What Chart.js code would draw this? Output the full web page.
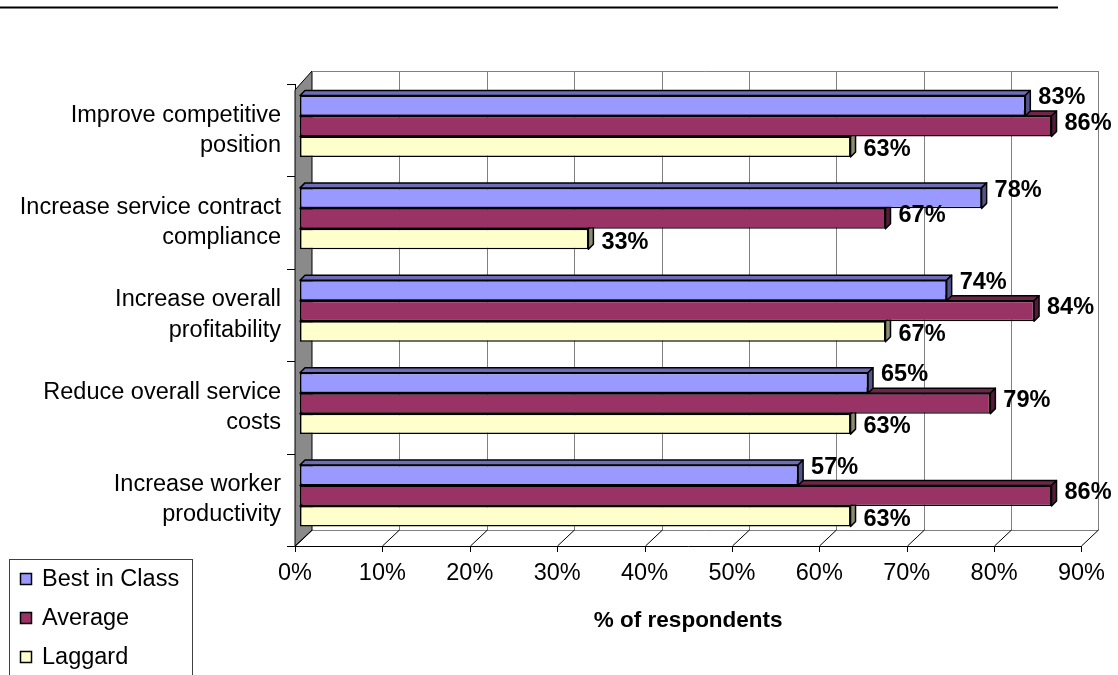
<!DOCTYPE html>
<html>
<head>
<meta charset="utf-8">
<script src="https://cdn.jsdelivr.net/npm/chart.js@4.4.1/dist/chart.umd.min.js"></script>
<style>
  html, body { margin: 0; padding: 0; background: #fff; }
  #wrap { position: relative; width: 1118px; height: 675px; }
</style>
</head>
<body>
<div id="wrap"><canvas id="chart" width="1118" height="675"></canvas></div>
<script>
const categories = [
    ["Improve competitive", "position"],
    ["Increase service contract", "compliance"],
    ["Increase overall", "profitability"],
    ["Reduce overall service", "costs"],
    ["Increase worker", "productivity"],
];
const bestInClass = [83, 78, 74, 65, 57];
const average = [86, 67, 84, 79, 86];
const laggard = [63, 33, 67, 63, 63];
const seriesNames = ["Best in Class", "Average", "Laggard"];
const seriesColors = ["#9999FF", "#993366", "#FFFFCC"];
const xTicks = [0, 10, 20, 30, 40, 50, 60, 70, 80, 90];

const FONT = "Arial, 'Liberation Sans', sans-serif";

// depth of the back wall and of the bars (pseudo 3D)
const DX = 17, DY = -16;
const BX = 5, BY = -4;   // bar plane offset from the front plane
const BD = 5;            // bar depth
const labelDy = [-8, -3, 3];

function shade(hex, f) {
    const n = parseInt(hex.slice(1), 16);
    const r = Math.round(((n >> 16) & 255) * f);
    const g = Math.round(((n >> 8) & 255) * f);
    const b = Math.round((n & 255) * f);
    return `rgb(${r},${g},${b})`;
}

const walls = {
    id: "walls",
    beforeDatasetsDraw(chart) {
        const { ctx, chartArea: a } = chart;
        const xs = chart.scales.x;
        const L = a.left, R = a.right, T = a.top, B = a.bottom;
        ctx.save();

        // left wall
        ctx.beginPath();
        ctx.moveTo(L, B);
        ctx.lineTo(L, T + 6);
        ctx.lineTo(L + DX, T + DY + 3);
        ctx.lineTo(L + DX, B + DY);
        ctx.closePath();
        ctx.fillStyle = "#8a8a8a";
        ctx.fill();
        ctx.strokeStyle = "#000";
        ctx.lineWidth = 1;
        ctx.stroke();

        // back wall gridlines
        ctx.strokeStyle = "#808080";
        ctx.lineWidth = 1;
        const top = T + DY + 3;
        xTicks.forEach((v) => {
            const x = Math.round(xs.getPixelForValue(v) + DX) + 0.5;
            ctx.beginPath();
            ctx.moveTo(x, top);
            ctx.lineTo(x, B + DY);
            ctx.stroke();
        });
        ctx.beginPath();
        ctx.moveTo(L + DX, top + 0.5);
        ctx.lineTo(R + DX, top + 0.5);
        ctx.moveTo(L + DX, B + DY + 0.5);
        ctx.lineTo(R + DX, B + DY + 0.5);
        ctx.stroke();

        // floor lines and ticks
        ctx.strokeStyle = "#000";
        xTicks.forEach((v) => {
            const x = Math.round(xs.getPixelForValue(v)) + 0.5;
            ctx.beginPath();
            ctx.moveTo(x, B);
            ctx.lineTo(x + DX, B + DY);
            ctx.moveTo(x, B);
            ctx.lineTo(x, B + 6);
            ctx.stroke();
        });
        ctx.beginPath();
        ctx.moveTo(L, B + 0.5);
        ctx.lineTo(R, B + 0.5);
        ctx.stroke();

        // category axis ticks
        const step = (B - T) / categories.length;
        for (let i = 0; i <= categories.length; i++) {
            const y = Math.round(T + i * step) + 0.5;
            ctx.beginPath();
            ctx.moveTo(L - 8, y);
            ctx.lineTo(L, y);
            ctx.stroke();
        }
        ctx.restore();
    },
    beforeDatasetDraw(chart, args) {
        const ctx = chart.ctx;
        const color = chart.data.datasets[args.index].backgroundColor;
        ctx.save();
        ctx.translate(BX, BY);
        ctx.lineWidth = 1.5;
        ctx.strokeStyle = "#000";
        ctx.lineJoin = "round";
        args.meta.data.forEach((bar) => {
            const { x, y, base, height } = bar.getProps(["x", "y", "base", "height"], true);
            const t = y - height / 2, b = y + height / 2;
            // top face
            ctx.beginPath();
            ctx.moveTo(base, t);
            ctx.lineTo(base + BD, t - BD);
            ctx.lineTo(x + BD, t - BD);
            ctx.lineTo(x, t);
            ctx.closePath();
            ctx.fillStyle = shade(color, 0.72);
            ctx.fill();
            ctx.stroke();
            // end face
            ctx.beginPath();
            ctx.moveTo(x, t);
            ctx.lineTo(x + BD, t - BD);
            ctx.lineTo(x + BD, b - BD);
            ctx.lineTo(x, b);
            ctx.closePath();
            ctx.fillStyle = shade(color, 0.55);
            ctx.fill();
            ctx.stroke();
        });
    },
    afterDatasetDraw(chart) {
        chart.ctx.restore();
    },
    afterDatasetsDraw(chart) {
        const ctx = chart.ctx;
        ctx.save();
        ctx.font = `bold 23.5px ${FONT}`;
        ctx.fillStyle = "#000";
        ctx.textAlign = "left";
        ctx.textBaseline = "middle";
        chart.data.datasets.forEach((ds, i) => {
            chart.getDatasetMeta(i).data.forEach((bar, j) => {
                const { x, y } = bar.getProps(["x", "y"], true);
                ctx.fillText(ds.data[j] + "%", x + BX + 13, y + BY + labelDy[i]);
            });
        });
        ctx.restore();
    },
    afterDraw(chart) {
        const ctx = chart.ctx;
        ctx.save();
        // rule across the top
        ctx.fillStyle = "#000";
        ctx.fillRect(0, 6.5, 1058, 2);

        // legend box
        ctx.strokeStyle = "#404040";
        ctx.lineWidth = 1;
        ctx.strokeRect(9.5, 559.5, 183, 130);
        ctx.font = `23.5px ${FONT}`;
        ctx.textBaseline = "middle";
        chart.data.datasets.forEach((ds, i) => {
            const y = 579 + i * 39;
            ctx.fillStyle = ds.backgroundColor;
            ctx.fillRect(20.5, y - 5.5, 11, 11);
            ctx.strokeStyle = "#000";
            ctx.lineWidth = 1.5;
            ctx.strokeRect(20.5, y - 5.5, 11, 11);
            ctx.fillStyle = "#000";
            ctx.fillText(ds.label, 42, y + 1);
        });
        ctx.restore();
    },
};

new Chart(document.getElementById("chart"), {
    type: "bar",
    data: {
        labels: categories,
        datasets: [bestInClass, average, laggard].map((d, i) => ({
            label: seriesNames[i],
            data: d,
            backgroundColor: seriesColors[i],
            borderColor: "#000",
            borderWidth: 1.5,
            borderSkipped: false,
            clip: false,
            categoryPercentage: 0.665,
            barPercentage: 1,
        })),
    },
    options: {
        indexAxis: "y",
        responsive: false,
        animation: false,
        layout: { padding: { left: 10, right: 31, top: 84, bottom: 0 } },
        plugins: {
            legend: { display: false },
            tooltip: { enabled: false },
        },
        scales: {
            x: {
                min: 0,
                max: 90,
                afterFit: (s) => { s.height = 129; },
                afterBuildTicks: (s) => { s.ticks = xTicks.map((v) => ({ value: v })); },
                grid: { display: false, drawTicks: false },
                border: { display: false },
                ticks: {
                    padding: 13,
                    color: "#000",
                    font: { family: FONT, size: 23.5 },
                    callback: (v) => v + "%",
                },
                title: {
                    display: true,
                    text: "% of respondents",
                    color: "#000",
                    font: { family: FONT, size: 22.5, weight: "bold" },
                    padding: { top: 0, bottom: 40.5 },
                },
            },
            y: {
                afterFit: (s) => { s.width = 285; },
                grid: { display: false, drawTicks: false },
                border: { display: true, color: "#000", width: 1 },
                ticks: {
                    padding: 14,
                    color: "#000",
                    font: { family: FONT, size: 23.5, lineHeight: 1.28 },
                },
            },
        },
    },
    plugins: [walls],
});
</script>
</body>
</html>
